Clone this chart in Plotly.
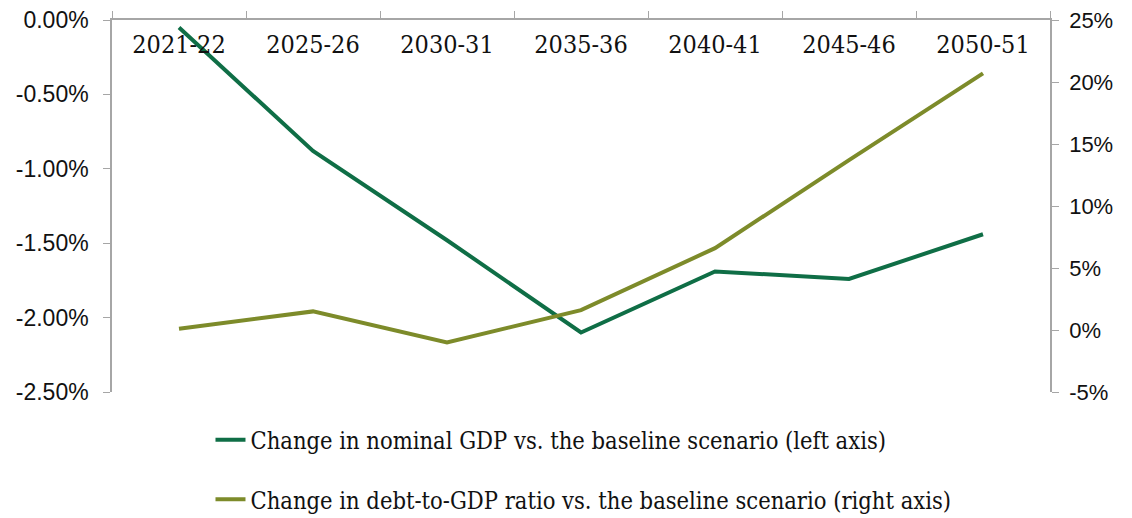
import plotly.graph_objects as go

categories = ["2021-22", "2025-26", "2030-31", "2035-36", "2040-41", "2045-46", "2050-51"]
gdp_change = [-0.05, -0.88, -1.48, -2.10, -1.69, -1.74, -1.44]
debt_change = [0.1, 1.5, -1.0, 1.6, 6.6, 13.7, 20.7]

left_tickvals = [0, -0.5, -1.0, -1.5, -2.0, -2.5]
left_ticktext = ["0.00%", "-0.50%", "-1.00%", "-1.50%", "-2.00%", "-2.50%"]
right_tickvals = [25, 20, 15, 10, 5, 0, -5]
right_ticktext = ["25%", "20%", "15%", "10%", "5%", "0%", "-5%"]

name_gdp = "Change in nominal GDP vs. the baseline scenario (left axis)"
name_debt = "Change in debt-to-GDP ratio vs. the baseline scenario (right axis)"

green = "#0f6e46"
olive = "#7d8b2a"
axis_col = "#a6a6a6"
serif = "DejaVu Serif Condensed, Liberation Serif, serif"
sans = "Liberation Sans, Arial, sans-serif"

fig = go.Figure()
fig.add_trace(go.Scatter(x=categories, y=gdp_change, name=name_gdp, mode="lines",
                         line=dict(color=green, width=4), yaxis="y", legendgroup="a"))
fig.add_trace(go.Scatter(x=categories, y=debt_change, name=name_debt, mode="lines",
                         line=dict(color=olive, width=4), yaxis="y2", legendgroup="b"))
# carrier for the category-label axis (draws nothing)
fig.add_trace(go.Scatter(x=[None], y=[None], xaxis="x2", yaxis="y", mode="lines",
                         showlegend=False, hoverinfo="skip"))

fig.update_layout(
    width=1132, height=518,
    margin=dict(l=112, r=82, t=20, b=126, autoexpand=False),
    paper_bgcolor="white", plot_bgcolor="white",
    showlegend=True,
    legend=dict(orientation="v", x=0.105, xanchor="left", y=-0.07, yanchor="top",
                traceorder="grouped", tracegroupgap=26,
                font=dict(family=serif, size=23.5, color="#111111"),
                bgcolor="rgba(0,0,0,0)"),
    xaxis=dict(type="category", side="top", showline=True, linecolor=axis_col, linewidth=1.5,
               ticks="outside", tickson="boundaries", ticklen=7, tickcolor=axis_col,
               showticklabels=False, showgrid=False, zeroline=False,
               range=[-0.5, 6.5]),
    xaxis2=dict(overlaying="x", anchor="free", position=1 - 38 / 372, side="top",
                type="linear", range=[-0.5, 6.5],
                tickmode="array", tickvals=list(range(len(categories))), ticktext=categories,
                showline=False, ticks="", showgrid=False, zeroline=False,
                tickfont=dict(family=serif, size=25, color="#111111")),
    yaxis=dict(range=[-2.5, 0], tickvals=left_tickvals, ticktext=left_ticktext,
               showline=True, linecolor=axis_col, linewidth=1.5, ticks="outside",
               ticklen=7, tickcolor=axis_col, showgrid=False, zeroline=False,
               ticklabelstandoff=10,
               tickfont=dict(family=sans, size=23, color="#111111")),
    yaxis2=dict(range=[-5, 25], tickvals=right_tickvals, ticktext=right_ticktext,
                overlaying="y", side="right", showline=True, linecolor=axis_col, linewidth=1.5,
                ticks="outside", ticklen=7, tickcolor=axis_col, showgrid=False, zeroline=False,
                ticklabelstandoff=6,
                tickfont=dict(family=sans, size=22, color="#111111")),
)

fig.write_html("out.html")
